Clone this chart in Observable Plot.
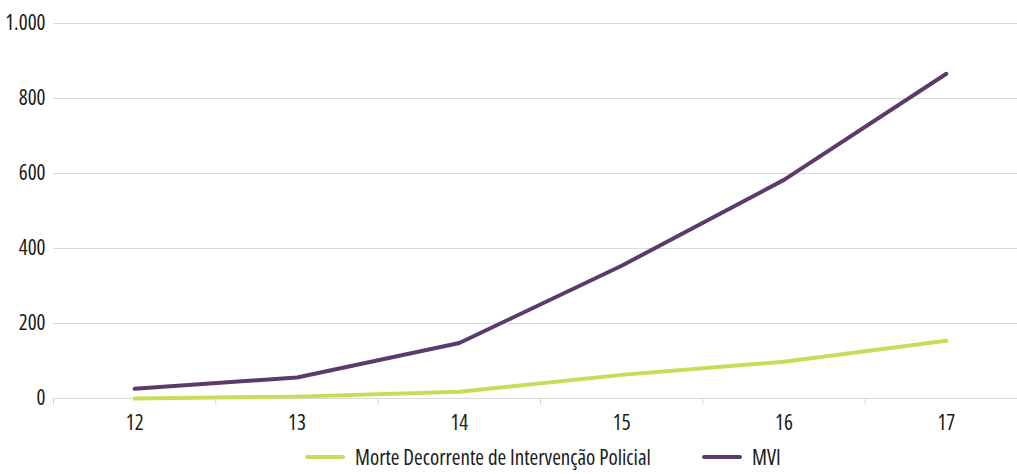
<!DOCTYPE html>
<html>
<head>
<meta charset="utf-8">
<script src="https://cdn.jsdelivr.net/npm/d3@7"></script>
<script src="https://cdn.jsdelivr.net/npm/@observablehq/plot@0.6"></script>
<style>
  body { margin: 0; background: #fff; font-family: "Open Sans", sans-serif; font-stretch: condensed; }
  #chart svg { display: block; overflow: visible; font-stretch: condensed; }
  #chart svg text { font-stretch: condensed; }
  .legend { position: relative; height: 32px; font-size: 21px; color: #1a1a1a; }
  .legend .item { position: absolute; top: 1px; display: flex; align-items: center; white-space: nowrap; }
  .legend .swatch { width: 40px; height: 4px; border-radius: 2px; margin-right: 10px; }
</style>
</head>
<body>
<div id="chart"></div>
<script>
// Anos (rótulos do eixo x)
const years = [12, 13, 14, 15, 16, 17];
// Morte Decorrente de Intervenção Policial
const mdip = [0, 5, 18, 63, 98, 154];
// MVI
const mvi = [26, 56, 148, 354, 583, 866];
const yTicks = [0, 200, 400, 600, 800, 1000];

const series = [
  { name: "Morte Decorrente de Intervenção Policial", values: mdip, color: "#c8dc5a" },
  { name: "MVI", values: mvi, color: "#5c3b6c" }
];

const rows = series.flatMap(s => s.values.map((v, i) => ({ serie: s.name, ano: years[i], valor: v })));
const boundaries = [...years.map(y => y - 0.5), years[years.length - 1] + 0.5];

const ptBR = d3.formatLocale({ decimal: ",", thousands: ".", grouping: [3], currency: ["R$", ""] });
const fmt = ptBR.format(",d");

const plot = Plot.plot({
  width: 1017,
  height: 442,
  marginLeft: 53,
  marginRight: 0,
  marginTop: 23,
  marginBottom: 44,
  style: { fontFamily: "'Open Sans', sans-serif", fontSize: "21px", color: "#1a1a1a", background: "#fff" },
  x: { domain: [years[0] - 0.5, years[years.length - 1] + 0.5], range: [53, 1027] },
  y: { domain: [0, 1000], range: [398, 23] },
  color: { domain: series.map(s => s.name), range: series.map(s => s.color) },
  marks: [
    Plot.ruleY(yTicks, { stroke: "#d9d9d9", strokeWidth: 1.2 }),
    Plot.axisY({ ticks: yTicks, tickSize: 0, tickPadding: 8, tickFormat: fmt, label: null }),
    Plot.axisX({ ticks: boundaries, tickSize: 7, tickFormat: () => "", stroke: "#d9d9d9", strokeOpacity: 1, label: null }),
    Plot.axisX({ ticks: years, tickSize: 0, tickPadding: 17, tickFormat: d => String(d), label: null }),
    Plot.line(rows, { x: "ano", y: "valor", z: "serie", stroke: "serie", strokeWidth: 4, strokeLinecap: "round", strokeLinejoin: "round" })
  ]
});
document.getElementById("chart").appendChild(plot);

// Legenda
const legend = document.createElement("div");
legend.className = "legend";
const positions = [305, 702];
series.forEach((s, i) => {
  const item = document.createElement("div");
  item.className = "item";
  item.style.left = positions[i] + "px";
  const sw = document.createElement("span");
  sw.className = "swatch";
  sw.style.background = s.color;
  const label = document.createElement("span");
  label.textContent = s.name;
  item.append(sw, label);
  legend.appendChild(item);
});
document.body.appendChild(legend);
</script>
</body>
</html>
